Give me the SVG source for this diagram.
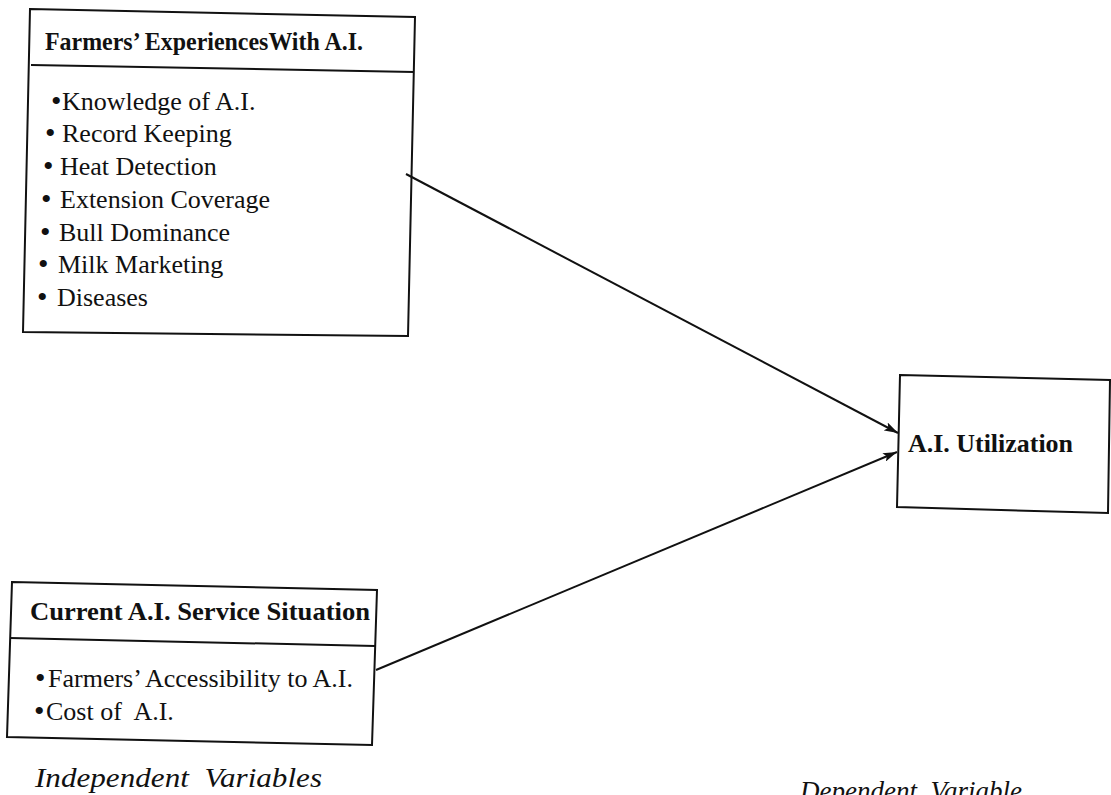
<svg xmlns="http://www.w3.org/2000/svg" width="1111" height="795" viewBox="0 0 1111 795">
<style>
.box{fill:none;stroke:#111;stroke-width:2}
.hd{font-family:"Liberation Serif","Times New Roman",serif;font-weight:bold;font-size:26px;fill:#111}
.it{font-family:"Liberation Serif","Times New Roman",serif;font-size:26px;fill:#111;white-space:pre}
.bu{font-family:"Liberation Serif","Times New Roman",serif;font-size:30px;fill:#111}
.lab{font-family:"Liberation Serif","Times New Roman",serif;font-style:italic;font-size:27px;fill:#111;white-space:pre}
.con{stroke:#111;stroke-width:2;fill:none;marker-end:url(#arr)}
</style>
<defs>
<marker id="arr" viewBox="0 0 14 9" refX="14" refY="4.5" markerWidth="14" markerHeight="9" markerUnits="userSpaceOnUse" orient="auto">
<path d="M0,0 L14,4.5 L0,9 L3,4.5 Z" fill="#111"/>
</marker>
</defs>
<rect width="1111" height="795" fill="#fff"/>
<g id="connectors">
<line class="con" x1="406" y1="174" x2="898" y2="433"/>
<line class="con" x1="376" y1="670" x2="897" y2="452"/>
</g>
<g id="node-experiences">
<polygon class="box" points="30,9 415,17 408,336 23,332"/>
<line class="box" x1="31" y1="65" x2="414" y2="72"/>
<text class="hd" x="45" y="50" textLength="318" lengthAdjust="spacingAndGlyphs">Farmers’ ExperiencesWith A.I.</text>
<text class="bu" x="51" y="111">•</text><text class="it" x="62" y="110">Knowledge of A.I.</text>
<text class="bu" x="45" y="143">•</text><text class="it" x="62" y="142">Record Keeping</text>
<text class="bu" x="43" y="176">•</text><text class="it" x="60" y="175">Heat Detection</text>
<text class="bu" x="41" y="209">•</text><text class="it" x="60" y="208">Extension Coverage</text>
<text class="bu" x="40" y="242">•</text><text class="it" x="59" y="241">Bull Dominance</text>
<text class="bu" x="38" y="274">•</text><text class="it" x="58" y="273">Milk Marketing</text>
<text class="bu" x="37" y="307">•</text><text class="it" x="57" y="306">Diseases</text>
</g>
<g id="node-service">
<polygon class="box" points="12,582 377,590 372,745 7,737"/>
<line class="box" x1="10" y1="638" x2="375" y2="646"/>
<text class="hd" x="30" y="620" textLength="340" lengthAdjust="spacingAndGlyphs">Current A.I. Service Situation</text>
<text class="bu" x="35" y="688">•</text><text class="it" x="48" y="687">Farmers’ Accessibility to A.I.</text>
<text class="bu" x="34" y="721">•</text><text class="it" x="46" y="720">Cost of  A.I.</text>
</g>
<g id="node-utilization">
<polygon class="box" points="900,375 1110,380 1108,513 897,507"/>
<text class="hd" x="908" y="452" textLength="165" lengthAdjust="spacingAndGlyphs">A.I. Utilization</text>
</g>
<g id="labels">
<text class="lab" x="35" y="787" textLength="287" lengthAdjust="spacingAndGlyphs">Independent  Variables</text>
<text class="lab" x="800" y="800">Dependent  Variable</text>
</g>
</svg>
